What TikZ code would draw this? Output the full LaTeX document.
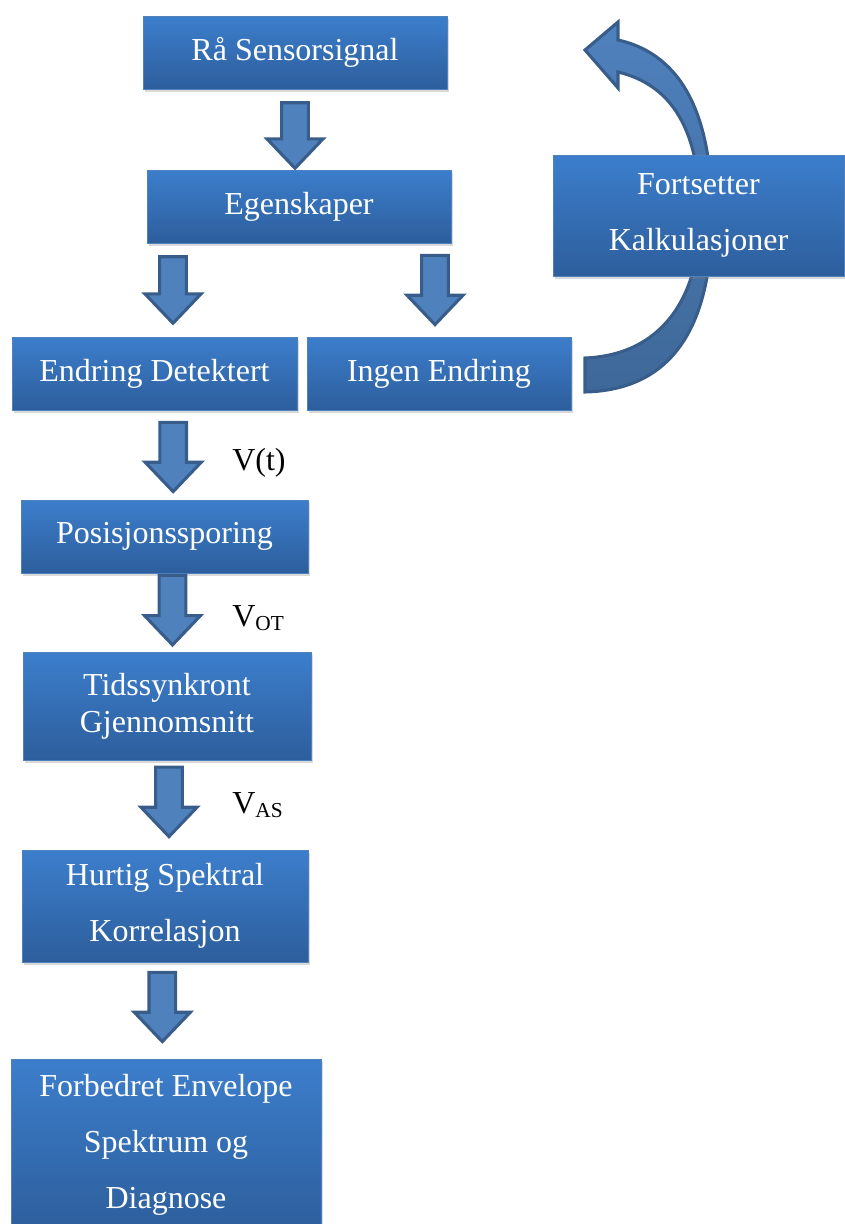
\documentclass[tikz,border=0pt]{standalone}
\usepackage{fontspec}
\setmainfont{Liberation Serif}
\usetikzlibrary{calc,shadows}

\definecolor{boxtop}{RGB}{60,126,204}
\definecolor{boxbottom}{RGB}{45,94,156}
\definecolor{boxline}{RGB}{79,129,189}
\definecolor{arrfill}{RGB}{79,129,189}
\definecolor{arrline}{RGB}{56,93,138}
\definecolor{arrdark}{RGB}{62,104,152}

\begin{document}
\begin{tikzpicture}[x=0.75pt,y=-0.75pt,
    box/.style={draw=boxline,line width=0.6pt,top color=boxtop,bottom color=boxbottom,
        text=white,align=center,inner sep=0pt,font=\fontsize{24}{42}\selectfont,
        drop shadow={shadow xshift=1.5pt,shadow yshift=-2.5pt,opacity=0.3}},
    blockarrow/.style={draw=arrline,line width=2.3pt,fill=arrfill,line join=miter,
        to path={let \p1=(\tikztostart), \p2=(\tikztotarget) in
            (\x1-10pt,\y1) -- (\x1+10pt,\y1) -- (\x1+10pt,\y2+22pt) -- (\x1+21pt,\y2+22pt)
            -- (\x1,\y2) -- (\x1-21pt,\y2+22pt) -- (\x1-10pt,\y2+22pt) -- cycle}},
    lbl/.style={anchor=west,inner sep=0pt,font=\fontsize{24}{28}\selectfont}]
    \useasboundingbox (0,0) rectangle (844,1224);

    % curved arrow back to the top
    \path[draw=arrline,line width=2.3pt,top color=arrfill,bottom color=arrdark,line join=miter]
        (585,392) .. controls (670,390) and (712,330) .. (712,215)
        .. controls (712,120) and (685,55) .. (618,40)
        -- (618,22) -- (585,50) -- (618,88) -- (618,72)
        .. controls (672,85) and (700,130) .. (700,215)
        .. controls (700,300) and (660,355) .. (585,358) -- cycle;

    \node[box,minimum width=228pt,minimum height=54.75pt] (rs) at (295,52.5) {Rå Sensorsignal};
    \node[box,minimum width=228pt,minimum height=54.75pt] (eg) at (299,206.5) {Egenskaper};
    \node[box,minimum width=213.75pt,minimum height=54.75pt] (ed) at (154.5,373.5) {Endring Detektert};
    \node[box,minimum width=198pt,minimum height=54.75pt] (ie) at (439,373.5) {Ingen Endring};
    \node[box,minimum width=218.25pt,minimum height=90.75pt] (fk) at (698.5,215.5) {Fortsetter\\Kalkulasjoner};
    \node[box,minimum width=215.25pt,minimum height=54.75pt] (ps) at (164.5,536.5) {Posisjonssporing};
    \node[box,minimum width=216pt,minimum height=81pt,font=\fontsize{24}{28}\selectfont] (ts) at (167,706) {Tidssynkront\\Gjennomsnitt};
    \node[box,minimum width=214.5pt,minimum height=84pt] (hs) at (165,906) {Hurtig Spektral\\Korrelasjon};
    \node[box,minimum width=232.5pt,minimum height=129pt] (fe) at (166,1145) {Forbedret Envelope\\Spektrum og\\Diagnose};

    \draw[blockarrow] ([yshift=-10pt]rs.south) to ([yshift=1pt]eg.north);
    \draw[blockarrow] ([xshift=-94.5pt,yshift=-10pt]eg.south) to ([yshift=10pt]ed.north);
    \draw[blockarrow] ([xshift=102pt,yshift=-9pt]eg.south) to ([yshift=9pt]ie.north);
    \draw[blockarrow] ([xshift=14pt,yshift=-9pt]ed.south) to ([yshift=6pt]ps.north);
    \draw[blockarrow] ([xshift=6pt,yshift=-1.5pt]ps.south) to ([yshift=5pt]ts.north);
    \draw[blockarrow] ([xshift=1.5pt,yshift=-5pt]ts.south) to ([yshift=9.75pt]hs.north);
    \draw[blockarrow] ([xshift=-2pt,yshift=-7.5pt]hs.south) to ([yshift=12.75pt]fe.north);

    \node[lbl] (vt) at (232,463) {V(t)};
    \node[lbl] (vot) at (232,618) {V\raisebox{-0.3ex}{\fontsize{16}{16}\selectfont OT}};
    \node[lbl] (vas) at (232,805) {V\raisebox{-0.3ex}{\fontsize{16}{16}\selectfont AS}};
\end{tikzpicture}
\end{document}
